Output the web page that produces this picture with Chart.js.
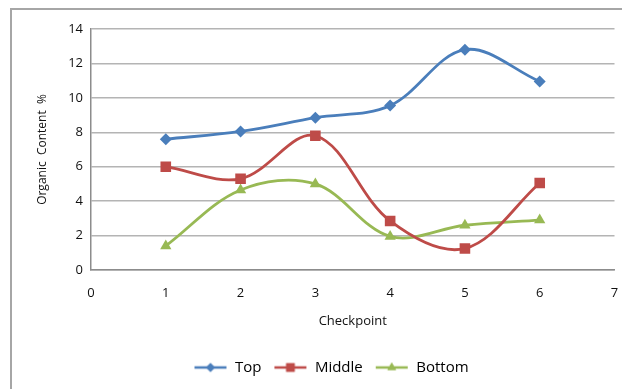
<!DOCTYPE html>
<html>
<head>
<meta charset="utf-8">
<script src="https://cdn.jsdelivr.net/npm/chart.js@4.4.0/dist/chart.umd.min.js"></script>
<style>
  body { margin: 0; background: #fff; }
  canvas { display: block; }
</style>
</head>
<body>
<canvas id="chart" width="622" height="389"></canvas>
<script>
// checkpoints and organic content readings
const checkpoints = [1, 2, 3, 4, 5, 6];
const topValues = [7.6, 8.05, 8.85, 9.55, 12.8, 10.95];
const middleValues = [6.0, 5.3, 7.8, 2.85, 1.25, 5.05];
const bottomValues = [1.4, 4.65, 5.0, 1.95, 2.6, 2.9];
const xTicks = [0, 1, 2, 3, 4, 5, 6, 7];
const yTicks = [0, 2, 4, 6, 8, 10, 12, 14];

const FONT = '"Open Sans", "Noto Sans", sans-serif';

function toPoints(vals) {
    return checkpoints.map((x, i) => ({ x: x, y: vals[i] }));
}

// small legend sample: line with marker in the middle
function legendIcon(color, style, r) {
    const c = document.createElement('canvas');
    c.width = 34; c.height = 14;
    const ctx = c.getContext('2d');
    ctx.strokeStyle = color;
    ctx.lineWidth = 2.5;
    ctx.beginPath();
    ctx.moveTo(1, 7); ctx.lineTo(33, 7);
    ctx.stroke();
    ctx.fillStyle = color;
    Chart.helpers.drawPoint(ctx, { pointStyle: style, radius: r, borderWidth: 0 }, 17, 7);
    ctx.fill();
    return c;
}

// grey frame along left and top
const framePlugin = {
    id: 'frame',
    beforeDraw(chart) {
        const ctx = chart.ctx;
        ctx.save();
        ctx.strokeStyle = '#a6a6a6';
        ctx.lineWidth = 2;
        ctx.beginPath();
        ctx.moveTo(11, 389);
        ctx.lineTo(11, 9);
        ctx.lineTo(622, 9);
        ctx.stroke();
        ctx.restore();
    }
};

const series = [
    { label: 'Top', data: topValues, color: '#4a7ebb', style: 'rectRot', r: 6 },
    { label: 'Middle', data: middleValues, color: '#be4b48', style: 'rect', r: 7.5 },
    { label: 'Bottom', data: bottomValues, color: '#98b954', style: 'triangle', r: 6.5 }
];

const ctx = document.getElementById('chart').getContext('2d');
const chart = new Chart(ctx, {
    type: 'scatter',
    data: {
        datasets: series.map(s => ({
            label: s.label,
            data: toPoints(s.data),
            showLine: true,
            tension: 0.35,
            borderColor: s.color,
            backgroundColor: s.color,
            borderWidth: 2.8,
            pointStyle: s.style,
            pointRadius: s.r,
            pointHoverRadius: s.r,
            pointBorderWidth: 0,
            legendIcon: legendIcon(s.color, s.style, s.r - 1.5)
        }))
    },
    options: {
        responsive: false,
        animation: false,
        layout: { padding: { left: 31, right: -9, top: 29, bottom: 4 } },
        plugins: {
            tooltip: { enabled: false },
            legend: {
                position: 'bottom',
                labels: {
                    usePointStyle: true,
                    pointStyleWidth: 34,
                    boxHeight: 14,
                    padding: 12,
                    color: '#111',
                    font: { family: FONT, size: 15 },
                    generateLabels(chart) {
                        return chart.data.datasets.map((d, i) => ({
                            text: d.label,
                            pointStyle: d.legendIcon,
                            fillStyle: d.borderColor,
                            strokeStyle: d.borderColor,
                            lineWidth: 0,
                            datasetIndex: i,
                            hidden: false
                        }));
                    }
                }
            }
        },
        scales: {
            x: {
                type: 'linear',
                min: 0,
                max: 7,
                afterBuildTicks(scale) { scale.ticks = xTicks.map(v => ({ value: v })); },
                afterFit(scale) {
                    scale.height = 78;
                    scale.paddingRight = 0;
                },
                grid: { display: false, drawTicks: false },
                border: { color: '#8c8c8c', width: 1.5 },
                ticks: { color: '#111', padding: 15, font: { family: FONT, size: 13 } },
                title: { display: true, text: 'Checkpoint', color: '#111', padding: { top: 2, bottom: 19 }, font: { family: FONT, size: 13 } }
            },
            y: {
                min: 0,
                max: 14,
                afterBuildTicks(scale) { scale.ticks = yTicks.map(v => ({ value: v })); },
                afterFit(scale) { scale.width = 60; },
                grid: { color: '#b4b4b4', lineWidth: 1.5, drawTicks: false },
                border: { color: '#8c8c8c', width: 1.5 },
                ticks: { color: '#111', padding: 8, font: { family: FONT, size: 13 } },
                title: { display: true, text: 'Organic  Content  %', color: '#111', padding: { bottom: 4 }, font: { family: FONT, size: 12 } }
            }
        }
    },
    plugins: [framePlugin]
});
</script>
</body>
</html>
